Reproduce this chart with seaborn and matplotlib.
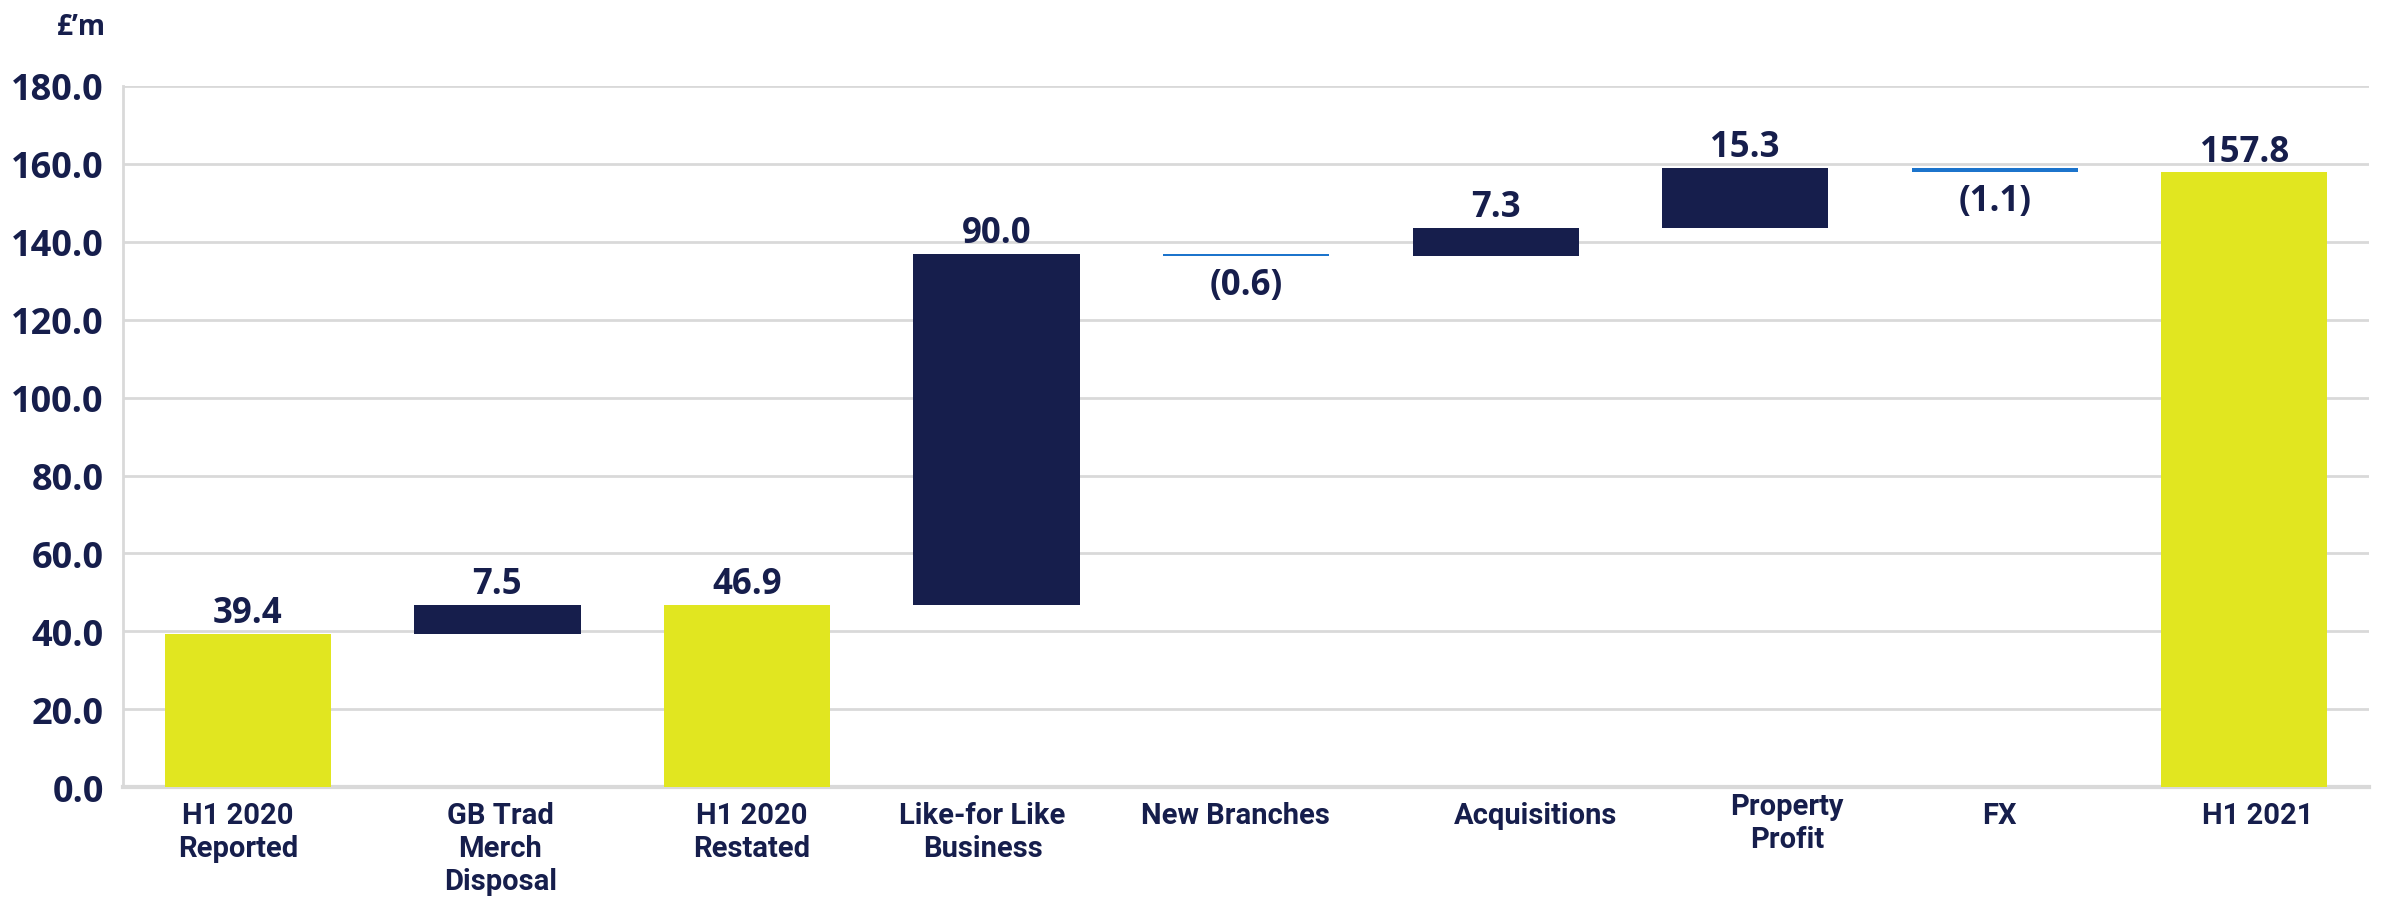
import matplotlib
matplotlib.use("Agg")
import matplotlib.pyplot as plt
import matplotlib.transforms as mtransforms
from matplotlib import font_manager
import pandas as pd
import seaborn as sns

# Bridge of H1 2020 to H1 2021 (£'m)
categories = ["H1 2020\nReported", "GB Trad\nMerch\nDisposal", "H1 2020\nRestated",
              "Like-for Like\nBusiness", "New Branches", "Acquisitions",
              "Property\nProfit", "FX", "H1 2021"]
values = [39.4, 7.5, 46.9, 90.0, -0.6, 7.3, 15.3, -1.1, 157.8]
kinds = ["total", "step", "total", "step", "step", "step", "step", "step", "total"]
value_labels = ["39.4", "7.5", "46.9", "90.0", "(0.6)", "7.3", "15.3", "(1.1)", "157.8"]
y_ticks = [0, 20, 40, 60, 80, 100, 120, 140, 160, 180]

NAVY = "#161E4C"
YELLOW = "#E1E620"
BLUE = "#1C74CC"
GRID = "#D9D9D9"

# horizontal / vertical nudges of category labels, in pixels
label_dx = [-10, 3, 5, -14, -11, 40, 42, 5, 13]
label_dy = [0, 0, 0, 0, 0, 0, 9, 0, 0]

# Floating bar extents
bottoms, heights, colors = [], [], []
running = 0.0
for v, k in zip(values, kinds):
    if k == "total":
        bottoms.append(0.0)
        heights.append(v)
        colors.append(YELLOW)
        running = v
    else:
        if v >= 0:
            bottoms.append(running)
            colors.append(NAVY)
        else:
            bottoms.append(running + v)
            colors.append(BLUE)
        heights.append(abs(v))
        running += v

df = pd.DataFrame({"cat": categories, "height": heights})

sns.set_theme(style="white")
available = {f.name for f in font_manager.fontManager.ttflist}
num_font = "Open Sans" if "Open Sans" in available else "DejaVu Sans"
cat_font = "Roboto" if "Roboto" in available else "DejaVu Sans"
plt.rcParams["font.family"] = [num_font, "DejaVu Sans"]

DPI = 100
fig = plt.figure(figsize=(23.81, 9.04), dpi=DPI)
ax = fig.add_axes([0.0517, 0.128, 0.9433, 0.776])

sns.barplot(data=df, x="cat", y="height", hue="cat", palette=colors,
            legend=False, width=0.666, saturation=1, ax=ax, zorder=3)

# lift each bar onto its running base
for patch, b, h in zip(ax.patches, bottoms, heights):
    patch.set_y(b)
    patch.set_height(h)
    patch.set_linewidth(0)

# value labels
for i, (v, b, h, lab) in enumerate(zip(values, bottoms, heights, value_labels)):
    if v >= 0:
        ax.annotate(lab, (i, b + h), xytext=(0, 2), textcoords="offset points",
                    ha="center", va="bottom", fontsize=25, fontweight="bold",
                    color=NAVY, family=num_font)
    else:
        ax.annotate(lab, (i, b), xytext=(0, -8), textcoords="offset points",
                    ha="center", va="top", fontsize=25, fontweight="bold",
                    color=NAVY, family=num_font)

ax.set_xlim(-0.5, len(categories) - 0.5)
ax.set_ylim(0, 180)
ax.set_yticks(y_ticks)
ax.set_yticklabels([f"{t:.1f}" for t in y_ticks], fontsize=26, fontweight="bold",
                   color=NAVY, family=num_font)
ax.grid(axis="y", color=GRID, linewidth=2, zorder=0)
ax.set_axisbelow(True)
ax.tick_params(axis="y", length=0, pad=14)
ax.tick_params(axis="x", length=0, pad=10)

ax.set_xticks(range(len(categories)))
ax.set_xticklabels(categories, fontsize=21, fontweight="bold", color=NAVY,
                   va="top", linespacing=1.22, family=cat_font)
for lbl, dx, dy in zip(ax.get_xticklabels(), label_dx, label_dy):
    lbl.set_transform(lbl.get_transform() +
                      mtransforms.ScaledTranslation(dx / DPI, dy / DPI,
                                                    fig.dpi_scale_trans))

ax.set_xlabel("")
ax.set_ylabel("")
for s in ["top", "right"]:
    ax.spines[s].set_visible(False)
ax.spines["left"].set_color(GRID)
ax.spines["left"].set_linewidth(2)
ax.spines["bottom"].set_color(GRID)
ax.spines["bottom"].set_linewidth(3)

fig.text(0.0445, 0.986, "£’m", ha="right", va="top", fontsize=20,
         fontweight="bold", color=NAVY, family=num_font)

fig.savefig("out.png", dpi=DPI, facecolor="white")
